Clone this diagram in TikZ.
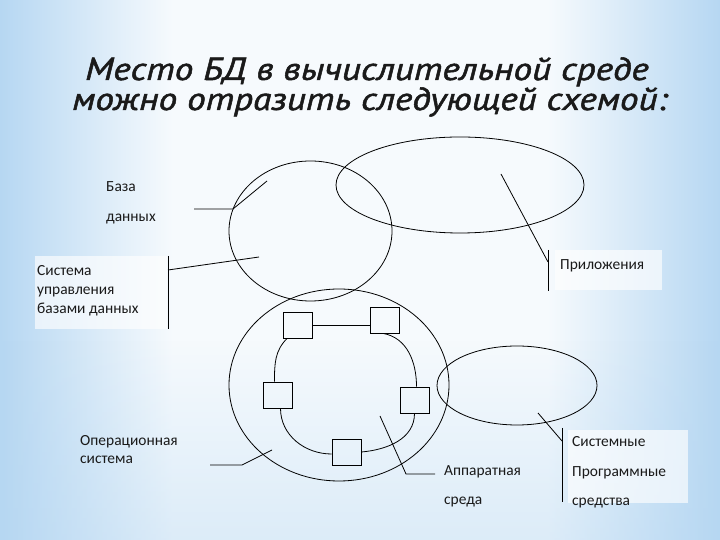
\documentclass[tikz,border=0pt]{standalone}
\usepackage{fontspec}
\setmainfont{Carlito}
\newfontfamily\titlefont[FakeStretch=1.17, FakeBold=1.6]{PT Sans}
\usetikzlibrary{shapes.geometric,fadings}
\definecolor{bgblue}{HTML}{B6D7F2}
\definecolor{bgwhite}{HTML}{F6FAFD}
\definecolor{inkgray}{HTML}{1A1A1A}
\pgfdeclarehorizontalshading{bgshade}{100bp}{color(0bp)=(bgblue); color(25bp)=(bgblue); color(37bp)=(bgwhite); color(63bp)=(bgwhite); color(75bp)=(bgblue); color(100bp)=(bgblue)}

\begin{document}
\begin{tikzpicture}[x=1bp,y=1bp,
    ring/.style={draw=black, line width=0.8bp, ellipse, inner sep=0pt},
    hwbox/.style={draw=black, line width=0.8bp, minimum width=29bp, minimum height=26bp, inner sep=0pt},
    lead/.style={draw=black, line width=0.8bp},
    lbl/.style={anchor=base west, inner sep=0pt, font=\fontsize{15.5}{18}\selectfont, text=inkgray},
    paper/.style={fill=white, fill opacity=0.65, draw=none}]
    \useasboundingbox (0,0) rectangle (720,540);
    % background
    \shade[shading=bgshade] (0,0) rectangle (720,540);
    \fill[bgblue, path fading=north, fill opacity=0.4] (0,0) rectangle (720,200);

    % title
    \node[anchor=base west, inner sep=0pt, font=\titlefont\itshape\fontsize{32}{36}\selectfont, text=inkgray] (title1) at (85,460) {Место БД в вычислительной среде};
    \node[anchor=base west, inner sep=0pt, font=\titlefont\itshape\fontsize{32}{36}\selectfont, text=inkgray] (title2) at (72,430) {можно отразить следующей схемой:};

    % label backings
    \fill[paper] (35,211) rectangle (167,284);
    \fill[paper] (555,250) rectangle (662,290);
    \fill[paper] (568,37) rectangle (688,110);

    % rings
    \node[ring, minimum width=163bp, minimum height=140bp] (db) at (310.5,309) {};
    \node[ring, minimum width=248bp, minimum height=96bp] (apps) at (460,355) {};
    \node[ring, minimum width=220bp, minimum height=192bp] (os) at (339,155) {};
    \node[ring, minimum width=160bp, minimum height=79bp] (sys) at (517,154.5) {};

    % hardware
    \foreach \n/\px/\py in {1/298/215, 2/385/220, 3/277.5/145, 4/414.5/140, 5/346.5/88}{
        \node[hwbox] (hw\n) at (\px,\py) {};
    }
    \draw[lead] (hw1.east) -- (hw1.east -| hw2.west);
    \draw[lead] ([xshift=4bp]hw1.south west) to[out=225,in=90] ([xshift=-3bp]hw3.north);
    \draw[lead] ([xshift=-2bp]hw2.south) to[out=-10,in=90] ([xshift=2bp]hw4.north);
    \draw[lead] ([xshift=3bp]hw3.south) to[out=-90,in=180] ([yshift=-2bp]hw5.west);
    \draw[lead] (hw5.east) to[out=5,in=-90] (hw4.south);

    % labels
    \node[lbl] (dbT1) at (106,348) {База};
    \node[lbl] (dbT2) at (106,318) {данных};
    \foreach \i/\t in {0/Система, 1/управления, 2/базами данных}{
        \node[lbl] (dbms\i) at (37,{264-19*\i}) {\t};
    }
    \node[lbl] (appT) at (560,270) {Приложения};
    \node[lbl] (osT1) at (80,94) {Операционная};
    \node[lbl] (osT2) at (80,76) {система};
    \node[lbl] (hwT1) at (444,64) {Аппаратная};
    \node[lbl] (hwT2) at (444,35) {среда};
    \foreach \i/\t in {0/Системные, 1/Программные, 2/средства}{
        \node[lbl] (sysT\i) at (572,{93-29.5*\i}) {\t};
    }

    % leaders
    \coordinate (dbA) at (194,331);
    \coordinate (dbB) at (233,331);
    \coordinate (dbC) at (267,359);
    \draw[lead] (dbA) -- (dbB) -- (dbC);
    \coordinate (dbmsTop) at (168,284);
    \coordinate (dbmsBot) at (168,211);
    \coordinate (dbmsA) at (168,270);
    \coordinate (dbmsB) at (259,283);
    \draw[lead] (dbmsTop) -- (dbmsBot);
    \draw[lead] (dbmsA) -- (dbmsB);
    \coordinate (appTop) at (548,290);
    \coordinate (appBot) at (548,249);
    \coordinate (appA) at (501,366);
    \coordinate (appB) at (548,278);
    \draw[lead] (appTop) -- (appBot);
    \draw[lead] (appA) -- (appB);
    \coordinate (osA) at (210,75);
    \coordinate (osB) at (242,75);
    \coordinate (osC) at (272,90);
    \draw[lead] (osA) -- (osB) -- (osC);
    \coordinate (hwA) at (380,124);
    \coordinate (hwB) at (406,66);
    \coordinate (hwC) at (435,66);
    \draw[lead] (hwA) -- (hwB) -- (hwC);
    \coordinate (sysTop) at (562,112);
    \coordinate (sysBot) at (562,38);
    \coordinate (sysA) at (538,127);
    \coordinate (sysB) at (562,99);
    \draw[lead] (sysTop) -- (sysBot);
    \draw[lead] (sysA) -- (sysB);
\end{tikzpicture}
\end{document}
